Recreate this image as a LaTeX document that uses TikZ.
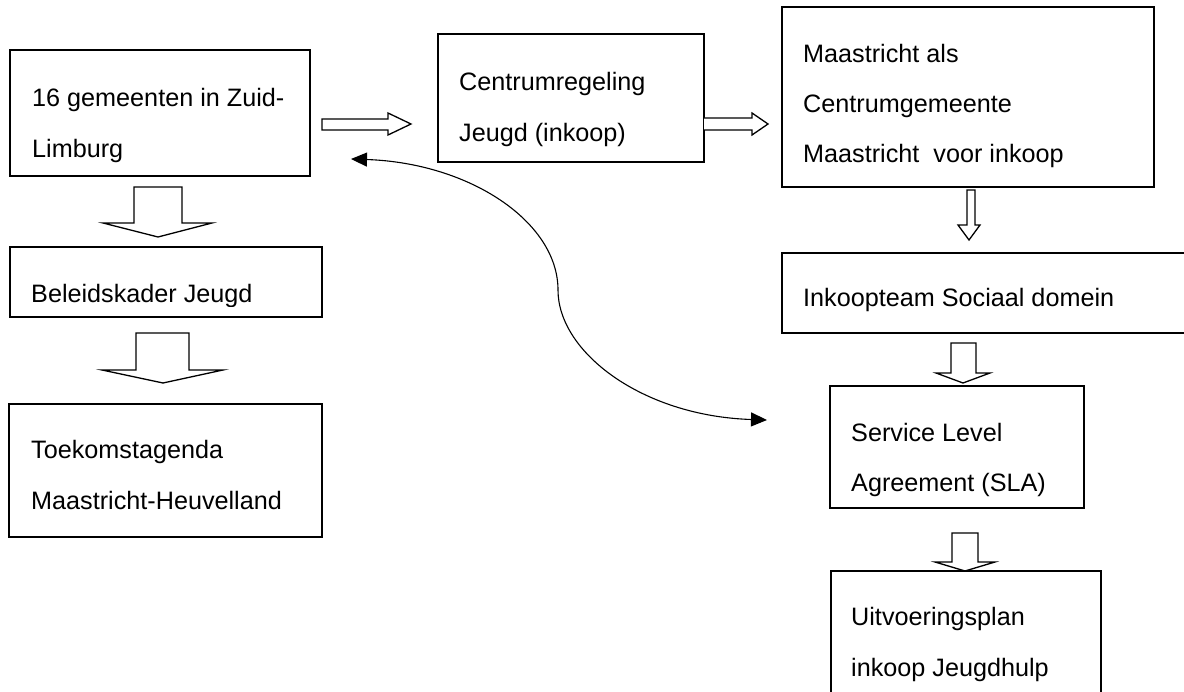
\documentclass[tikz,border=0pt]{standalone}
\usepackage{fontspec}
\setmainfont{Liberation Sans}
\usetikzlibrary{arrows.meta}
\begin{document}
\begin{tikzpicture}[x=1pt,y=-1pt,
  box/.style={draw=black, line width=1.5pt, inner sep=0pt, outer sep=0pt, anchor=north west, fill=none},
  txt/.style={anchor=base west, inner sep=0pt, font=\fontsize{25.2}{30}\selectfont},
  blockarrow/.style={draw=black, line width=1.3pt, fill=white, line join=miter},
  link/.style={draw=black, line width=1.1pt, {Triangle[length=16pt,width=14pt]}-{Triangle[length=16pt,width=14pt]}}]
\useasboundingbox (0,0) rectangle (1184,692);
\fill[white] (0,0) rectangle (1184,692);

% boxes
\node[box, minimum width=300pt, minimum height=126pt] (A) at (10,50) {};
\node[box, minimum width=312pt, minimum height=70pt] (B) at (10,247) {};
\node[box, minimum width=313pt, minimum height=133pt] (C) at (9,404) {};
\node[box, minimum width=266pt, minimum height=128pt] (D) at (438,34) {};
\node[box, minimum width=372pt, minimum height=180pt] (E) at (782,7) {};
\node[box, minimum width=420pt, minimum height=80pt] (F) at (782,253) {};
\node[box, minimum width=254pt, minimum height=122pt] (G) at (830,386) {};
\node[box, minimum width=270pt, minimum height=150pt] (H) at (831,571) {};

% texts
\node[txt] (A1) at (32,107) {16 gemeenten in Zuid-};
\node[txt] (A2) at (32,158) {Limburg};
\begin{scope}
\clip (0,240) rectangle (330,306.5);
\node[txt] (B1) at (31,303) {Beleidskader Jeugd};
\end{scope}
\node[txt] (C1) at (31,459) {Toekomstagenda};
\node[txt] (C2) at (31,510) {Maastricht-Heuvelland};
\node[txt] (D1) at (459,91) {Centrumregeling};
\node[txt] (D2) at (459,142) {Jeugd (inkoop)};
\node[txt] (E1) at (803,63) {Maastricht als};
\node[txt] (E2) at (803,113) {Centrumgemeente};
\node[txt] (E3) at (803,163) {Maastricht\ \ voor inkoop};
\node[txt] (F1) at (803,307) {Inkoopteam Sociaal domein};
\node[txt] (G1) at (851,442) {Service Level};
\node[txt] (G2) at (851,492) {Agreement (SLA)};
\node[txt] (H1) at (851,625) {Uitvoeringsplan};
\node[txt] (H2) at (851,676) {inkoop Jeugdhulp};

% block arrows (down)
\draw[blockarrow] (134,187) -- (182,187) -- (182,223) -- (212,223) -- (158,237) -- (103,223) -- (134,223) -- cycle;
\draw[blockarrow] (136,333) -- (189,333) -- (189,370) -- (223,370) -- (163,383) -- (102,370) -- (136,370) -- cycle;
\draw[blockarrow] (967,190) -- (975,190) -- (975,225) -- (980,225) -- (969,240) -- (958,225) -- (967,225) -- cycle;
\draw[blockarrow] (951,343) -- (976,343) -- (976,373) -- (990,373) -- (963,383) -- (936,373) -- (951,373) -- cycle;
\draw[blockarrow] (952,533) -- (978,533) -- (978,562) -- (995,562) -- (965,571) -- (935,562) -- (952,562) -- cycle;
% block arrows (right)
\draw[blockarrow] (322,119) -- (388,119) -- (388,113) -- (411,124) -- (388,135) -- (388,130) -- (322,130) -- cycle;
\draw[blockarrow] (D.east |- 0,118) -- (752,118) -- (752,113) -- (768,124) -- (752,135) -- (752,130) -- (D.east |- 0,130);

% curved double arrow
\coordinate (cs) at (351,159);
\coordinate (cm) at (558,290);
\coordinate (ce) at (767,420);
\draw[link] (cs) .. controls (470,163) and (558,222) .. (cm) .. controls (558,352) and (642,416) .. (ce);
\end{tikzpicture}
\end{document}
